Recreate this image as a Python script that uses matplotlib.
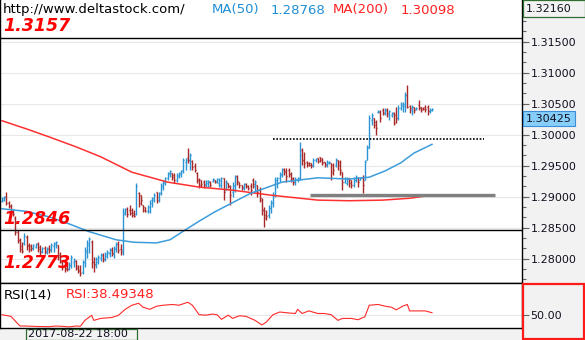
import numpy as np
import matplotlib
matplotlib.use("Agg")
import matplotlib.pyplot as plt
import matplotlib.transforms as mtransforms
from matplotlib.patches import Rectangle

# GBPUSD-style hourly bars (open, high, low, close)
opens = [1.2894, 1.2895, 1.2900, 1.2890, 1.2886, 1.2877, 1.2866, 1.2844, 1.2831, 1.2821,
         1.2826, 1.2836, 1.2823, 1.2821, 1.2818, 1.2819, 1.2824, 1.2819, 1.2813, 1.2818,
         1.2811, 1.2816, 1.2816, 1.2821, 1.2824, 1.2823, 1.2806, 1.2795, 1.2789, 1.2785,
         1.2784, 1.2790, 1.2795, 1.2797, 1.2789, 1.2782, 1.2779, 1.2795, 1.2811, 1.2823,
         1.2827, 1.2795, 1.2790, 1.2795, 1.2802, 1.2806, 1.2800, 1.2805, 1.2810, 1.2815,
         1.2808, 1.2816, 1.2824, 1.2816,
         1.2815, 1.2873, 1.2881, 1.2879, 1.2879, 1.2874, 1.2873, 1.2906, 1.2903, 1.2887,
         1.2884, 1.2877, 1.2877, 1.2895, 1.2895, 1.2908, 1.2900, 1.2906, 1.2916, 1.2923,
         1.2931, 1.2937, 1.2939, 1.2935, 1.2927, 1.2934, 1.2937, 1.2944, 1.2956, 1.2963,
         1.2960, 1.2958, 1.2950, 1.2939, 1.2927, 1.2927, 1.2924, 1.2921, 1.2923, 1.2924,
         1.2926, 1.2927, 1.2926, 1.2923, 1.2919, 1.2931, 1.2911, 1.2923, 1.2918, 1.2908,
         1.2918, 1.2934, 1.2924, 1.2919, 1.2915, 1.2921, 1.2918, 1.2918, 1.2927, 1.2918,
         1.2919, 1.2911, 1.2895, 1.2879, 1.2871, 1.2871, 1.2882, 1.2890, 1.2903, 1.2927,
         1.2931, 1.2935, 1.2945, 1.2942, 1.2944, 1.2937, 1.2931, 1.2924, 1.2929, 1.2931,
         1.2976, 1.2960, 1.2956, 1.2955, 1.2955, 1.2952, 1.2960, 1.2963,
         1.2965, 1.2963, 1.2956, 1.2953, 1.2955, 1.2955, 1.2952, 1.2952, 1.2960, 1.2956,
         1.2940, 1.2924, 1.2923, 1.2931, 1.2927, 1.2919, 1.2927, 1.2931, 1.2927, 1.2931,
         1.2927, 1.2960, 1.2979, 1.3024, 1.3027, 1.3021, 1.3037, 1.3037, 1.3040, 1.3035,
         1.3040, 1.3032, 1.3032, 1.3035, 1.3032, 1.3027, 1.3044, 1.3047, 1.3047, 1.3065,
         1.3047, 1.3040, 1.3045, 1.3042, 1.3048, 1.3045, 1.3044, 1.3045, 1.3045, 1.3039,
         1.3040]
highs = [1.2900, 1.2902, 1.2908, 1.2894, 1.2889, 1.2881, 1.2869, 1.2847, 1.2834, 1.2827,
         1.2842, 1.2839, 1.2826, 1.2824, 1.2824, 1.2826, 1.2827, 1.2823, 1.2819, 1.2821,
         1.2819, 1.2823, 1.2826, 1.2827, 1.2829, 1.2823, 1.2811, 1.2798, 1.2795, 1.2792,
         1.2795, 1.2806, 1.2802, 1.2798, 1.2790, 1.2790, 1.2798, 1.2819, 1.2831, 1.2836,
         1.2831, 1.2803, 1.2803, 1.2806, 1.2810, 1.2810, 1.2811, 1.2815, 1.2818, 1.2819,
         1.2821, 1.2827, 1.2829, 1.2824,
         1.2882, 1.2882, 1.2884, 1.2887, 1.2882, 1.2879, 1.2923, 1.2908, 1.2903, 1.2887,
         1.2884, 1.2887, 1.2895, 1.2900, 1.2906, 1.2908, 1.2908, 1.2923, 1.2927, 1.2932,
         1.2940, 1.2944, 1.2939, 1.2939, 1.2939, 1.2940, 1.2944, 1.2963, 1.2963, 1.2979,
         1.2971, 1.2960, 1.2955, 1.2940, 1.2931, 1.2927, 1.2927, 1.2927, 1.2927, 1.2926,
         1.2931, 1.2927, 1.2931, 1.2931, 1.2932, 1.2931, 1.2927, 1.2923, 1.2919, 1.2924,
         1.2935, 1.2935, 1.2924, 1.2919, 1.2923, 1.2923, 1.2919, 1.2923, 1.2931, 1.2927,
         1.2919, 1.2916, 1.2898, 1.2884, 1.2879, 1.2887, 1.2895, 1.2908, 1.2932, 1.2932,
         1.2940, 1.2947, 1.2947, 1.2947, 1.2947, 1.2940, 1.2932, 1.2932, 1.2932, 1.2989,
         1.2979, 1.2973, 1.2958, 1.2956, 1.2955, 1.2963, 1.2963, 1.2963,
         1.2965, 1.2963, 1.2956, 1.2960, 1.2958, 1.2955, 1.2955, 1.2963, 1.2960, 1.2960,
         1.2940, 1.2932, 1.2932, 1.2931, 1.2927, 1.2932, 1.2935, 1.2932, 1.2932, 1.2935,
         1.2960, 1.2984, 1.3032, 1.3035, 1.3027, 1.3024, 1.3040, 1.3040, 1.3044, 1.3044,
         1.3044, 1.3040, 1.3037, 1.3037, 1.3045, 1.3048, 1.3053, 1.3053, 1.3069, 1.3081,
         1.3048, 1.3048, 1.3045, 1.3045, 1.3056, 1.3045, 1.3045, 1.3048, 1.3048, 1.3044,
         1.3043]
lows = [1.2892, 1.2894, 1.2887, 1.2882, 1.2874, 1.2869, 1.2839, 1.2826, 1.2811, 1.2810,
        1.2823, 1.2815, 1.2811, 1.2813, 1.2815, 1.2818, 1.2811, 1.2806, 1.2810, 1.2808,
        1.2808, 1.2810, 1.2811, 1.2811, 1.2818, 1.2798, 1.2794, 1.2782, 1.2779, 1.2781,
        1.2782, 1.2785, 1.2787, 1.2782, 1.2777, 1.2773, 1.2776, 1.2787, 1.2802, 1.2810,
        1.2785, 1.2779, 1.2785, 1.2792, 1.2797, 1.2795, 1.2797, 1.2802, 1.2803, 1.2805,
        1.2802, 1.2811, 1.2810, 1.2806,
        1.2806, 1.2871, 1.2868, 1.2871, 1.2868, 1.2868, 1.2871, 1.2884, 1.2887, 1.2876,
        1.2876, 1.2874, 1.2874, 1.2884, 1.2892, 1.2890, 1.2892, 1.2903, 1.2911, 1.2919,
        1.2927, 1.2932, 1.2927, 1.2923, 1.2924, 1.2931, 1.2932, 1.2939, 1.2944, 1.2955,
        1.2944, 1.2944, 1.2940, 1.2923, 1.2915, 1.2916, 1.2915, 1.2916, 1.2916, 1.2916,
        1.2924, 1.2923, 1.2923, 1.2916, 1.2915, 1.2895, 1.2911, 1.2915, 1.2887, 1.2900,
        1.2908, 1.2919, 1.2915, 1.2911, 1.2911, 1.2915, 1.2911, 1.2903, 1.2915, 1.2908,
        1.2900, 1.2892, 1.2871, 1.2852, 1.2863, 1.2866, 1.2874, 1.2884, 1.2900, 1.2915,
        1.2924, 1.2932, 1.2935, 1.2924, 1.2932, 1.2924, 1.2919, 1.2919, 1.2924, 1.2927,
        1.2952, 1.2947, 1.2948, 1.2950, 1.2947, 1.2948, 1.2956, 1.2955,
        1.2956, 1.2952, 1.2948, 1.2948, 1.2953, 1.2927, 1.2935, 1.2948, 1.2944, 1.2935,
        1.2911, 1.2923, 1.2919, 1.2916, 1.2915, 1.2916, 1.2924, 1.2916, 1.2927, 1.2906,
        1.2927, 1.2960, 1.2979, 1.3016, 1.3011, 1.3000, 1.3035, 1.3021, 1.3032, 1.3032,
        1.3029, 1.3024, 1.3029, 1.3016, 1.3019, 1.3024, 1.3040, 1.3037, 1.3037, 1.3044,
        1.3035, 1.3032, 1.3035, 1.3040, 1.3040, 1.3037, 1.3040, 1.3037, 1.3032, 1.3035,
        1.3039]
closes = [1.2898, 1.2900, 1.2890, 1.2886, 1.2877, 1.2873, 1.2844, 1.2831, 1.2816, 1.2813,
          1.2837, 1.2821, 1.2816, 1.2818, 1.2823, 1.2824, 1.2816, 1.2811, 1.2818, 1.2813,
          1.2818, 1.2815, 1.2823, 1.2826, 1.2827, 1.2803, 1.2797, 1.2787, 1.2784, 1.2784,
          1.2790, 1.2803, 1.2798, 1.2785, 1.2781, 1.2777, 1.2795, 1.2815, 1.2826, 1.2832,
          1.2795, 1.2792, 1.2800, 1.2803, 1.2806, 1.2800, 1.2808, 1.2811, 1.2816, 1.2810,
          1.2818, 1.2824, 1.2815, 1.2811,
          1.2876, 1.2881, 1.2873, 1.2874, 1.2871, 1.2869, 1.2918, 1.2890, 1.2895, 1.2879,
          1.2877, 1.2884, 1.2890, 1.2898, 1.2903, 1.2895, 1.2906, 1.2919, 1.2924, 1.2931,
          1.2939, 1.2942, 1.2932, 1.2927, 1.2935, 1.2939, 1.2942, 1.2960, 1.2960, 1.2960,
          1.2968, 1.2948, 1.2944, 1.2927, 1.2919, 1.2921, 1.2919, 1.2926, 1.2926, 1.2919,
          1.2929, 1.2924, 1.2929, 1.2927, 1.2931, 1.2908, 1.2924, 1.2918, 1.2903, 1.2919,
          1.2932, 1.2926, 1.2919, 1.2916, 1.2921, 1.2918, 1.2915, 1.2911, 1.2921, 1.2924,
          1.2908, 1.2898, 1.2879, 1.2866, 1.2869, 1.2882, 1.2892, 1.2903, 1.2927, 1.2931,
          1.2937, 1.2944, 1.2940, 1.2934, 1.2937, 1.2929, 1.2924, 1.2929, 1.2931, 1.2968,
          1.2960, 1.2955, 1.2952, 1.2952, 1.2950, 1.2960, 1.2961, 1.2958,
          1.2960, 1.2955, 1.2952, 1.2956, 1.2956, 1.2940, 1.2944, 1.2960, 1.2952, 1.2944,
          1.2924, 1.2931, 1.2929, 1.2923, 1.2919, 1.2927, 1.2932, 1.2924, 1.2931, 1.2919,
          1.2956, 1.2981, 1.3027, 1.3032, 1.3016, 1.3011, 1.3039, 1.3027, 1.3035, 1.3040,
          1.3035, 1.3039, 1.3035, 1.3019, 1.3027, 1.3044, 1.3050, 1.3050, 1.3065, 1.3045,
          1.3044, 1.3045, 1.3040, 1.3044, 1.3044, 1.3040, 1.3042, 1.3042, 1.3039, 1.3040,
          1.30425]

# moving averages, sampled at bar numbers
ma50_bar = [0, 11, 14, 21, 29, 39, 51, 59, 69, 75, 81, 88, 95, 111, 125, 141, 155, 164, 171, 178, 184, 192]
ma50_val = [1.2881, 1.28768, 1.2874, 1.2868, 1.2858, 1.2844, 1.2831, 1.2827, 1.2826, 1.2831, 1.2845,
            1.2861, 1.2876, 1.2906, 1.2924, 1.2931, 1.2929, 1.2932, 1.2942, 1.2955, 1.2971, 1.2985]
ma200_bar = [0, 11, 21, 33, 44, 58, 74, 88, 103, 120, 141, 155, 170, 182, 192]
ma200_val = [1.3023, 1.30098, 1.2997, 1.2981, 1.2965, 1.2940, 1.2924, 1.2916, 1.2911, 1.2903,
             1.2895, 1.2894, 1.2895, 1.2898, 1.2903]

# RSI(14)
rsi_bar = [0, 4, 8, 11, 16, 21, 24, 27, 30, 33, 35, 37, 40, 41, 44, 49, 52, 55, 58, 61, 63, 66,
           69, 72, 76, 79, 83, 85, 88, 91, 94, 96, 98, 101, 103, 106, 109, 113, 116, 118, 121,
           124, 127, 131, 132, 134, 137, 141, 144, 147, 150, 152, 156, 159, 162, 164, 168, 171,
           174, 176, 179, 181, 182, 186, 189, 192]
rsi_val = [50.7, 48.9, 38.6, 38.49348, 38.0, 37.8, 38.5, 38.2, 37.6, 38.5, 38.3, 44.6, 50.0, 44.6,
           46.7, 47.7, 50.0, 56.5, 60.9, 63.0, 58.7, 56.5, 59.8, 60.9, 61.7, 60.9, 64.1, 60.9, 50.7,
           50.2, 51.4, 50.7, 45.7, 50.2, 46.7, 49.6, 48.9, 44.6, 39.7, 42.7, 50.7, 53.6, 52.8, 52.0,
           56.5, 52.0, 54.8, 52.0, 52.0, 50.7, 44.6, 46.7, 46.7, 45.3, 48.5, 60.9, 61.7, 59.9, 58.7,
           55.9, 60.0, 61.7, 54.8, 54.8, 54.8, 52.8]

# levels marked on the chart
level_hi = 1.3157
level_mid = 1.2846
level_lo = 1.2773
resistance = 1.2993
support = 1.2903
cursor_bar = 11

W, H = 585, 340
BLUE = '#2a94d4'
RED = '#a82828'


def fx(x):
    return x / W


def fy(y):
    return 1 - y / H


fig = plt.figure(figsize=(W / 100, H / 100), dpi=100)
fig.patch.set_facecolor('white')

# grey scale panels on the right and the time strip at the bottom
fig.add_artist(Rectangle((fx(522), 0), fx(63), 1, transform=fig.transFigure,
                         facecolor='#f2f2f2', edgecolor='none', zorder=-1))
fig.add_artist(Rectangle((0, 0), 1, 12 / H, transform=fig.transFigure,
                         facecolor='#f2f2f2', edgecolor='none', zorder=-1))

ax = fig.add_axes([0, fy(283), fx(522), 283 / H])
rsi_ax = fig.add_axes([0, fy(328), fx(522), 45 / H])

n = len(closes)
bars = np.arange(n)
o, h, l, c = map(np.array, (opens, highs, lows, closes))
col = np.where(c >= o, BLUE, RED)
step = 430 / (n - 1)
xlim = (-2 / step, 520 / step)

# price panel
ax.set_xlim(*xlim)
ax.set_ylim(1.27613, 1.32178)
ax.set_yticks(np.arange(1.280, 1.3151, 0.005))
ax.set_yticks(np.arange(1.2767, 1.3217, 0.005 / 3), minor=True)
ax.yaxis.set_major_formatter(plt.FormatStrFormatter('%.5f'))
ax.yaxis.tick_right()
ax.tick_params(axis='y', which='major', direction='out', length=5, width=0.8,
               color='#666666', pad=1, labelsize=8, labelcolor='#101020')
ax.tick_params(axis='y', which='minor', direction='out', length=3, width=0.8, color='#666666')
ax.tick_params(axis='x', bottom=False, labelbottom=False)
ax.grid(axis='y', which='major', color='#e8e8e8', lw=0.8)
ax.set_axisbelow(True)
for side in ('left', 'right', 'bottom'):
    ax.spines[side].set_color('black')
    ax.spines[side].set_linewidth(1.0)
ax.spines['top'].set_visible(False)

ax.vlines(bars, l, h, colors=col, lw=1.0)
ax.hlines(o, bars - 0.45, bars, colors=col, lw=1.0)
ax.hlines(c, bars, bars + 0.45, colors=col, lw=1.0)

ax.plot(ma200_bar, ma200_val, color='#ff3030', lw=1.1)
ax.plot(ma50_bar, ma50_val, color='#3d9ddc', lw=1.1)

ax.axhline(level_hi, color='black', lw=1.0)
ax.axhline(level_mid, color='black', lw=1.0)
ax.hlines(resistance, 121, 215, colors='black', linestyles=(0, (1, 1)), lw=1.2)
ax.hlines(support, 137.5, 220, colors='#808080', lw=2.4)

blend = mtransforms.blended_transform_factory(ax.transAxes, ax.transData)
ax.annotate(f'{closes[-1]:.5f}', xy=(1, closes[-1]), xycoords=blend,
            xytext=(3, -3.5), textcoords='offset points', ha='left', va='top',
            fontsize=8, color='#101020', zorder=10, annotation_clip=False,
            bbox=dict(boxstyle='square,pad=0.25', fc='#87cefa', ec='#3b8fd6', lw=0.8))

# RSI panel
rsi_ax.set_xlim(*xlim)
rsi_ax.set_ylim(36.4, 84.8)
rsi_ax.plot(rsi_bar, rsi_val, color='#ff2a2a', lw=0.8)
rsi_ax.set_yticks([50])
rsi_ax.yaxis.set_major_formatter(plt.FormatStrFormatter('%.2f'))
rsi_ax.yaxis.tick_right()
rsi_ax.tick_params(axis='y', direction='out', length=5, width=0.8, color='#666666',
                   pad=1, labelsize=8, labelcolor='#101020')
rsi_ax.tick_params(axis='x', bottom=False, labelbottom=False)
rsi_ax.grid(axis='y', color='#e8e8e8', lw=0.8)
rsi_ax.set_axisbelow(True)
for side in rsi_ax.spines.values():
    side.set_color('black')
    side.set_linewidth(1.0)

# frames on the scale panel
fig.add_artist(Rectangle((fx(523), fy(339)), fx(61), 55 / H, transform=fig.transFigure,
                         facecolor='none', edgecolor='#ff1a1a', lw=1.6, zorder=5))
fig.add_artist(Rectangle((fx(522.5), fy(17)), fx(62), 16.5 / H, transform=fig.transFigure,
                         facecolor='#f2f2f2', edgecolor='#2e6e2e', lw=0.9, zorder=5))
fig.text(fx(526), fy(8.5), '1.32160', fontsize=8, color='#101020', va='center', zorder=6)

# time strip with the cursor date
fig.add_artist(Rectangle((fx(26), fy(339.5)), fx(111), 11 / H, transform=fig.transFigure,
                         facecolor='#f2f2f2', edgecolor='#2e6e2e', lw=0.9, zorder=5))
fig.text(fx(28), fy(334), '2017-08-22 18:00', fontsize=8, color='#101020', va='center', zorder=6)

# header texts
fig.text(fx(3), fy(10), 'http://www.deltastock.com/', fontsize=9.5, color='black', va='center')
fig.text(fx(212), fy(10), 'MA(50)', fontsize=9.5, color='#1e8fd6', va='center')
fig.text(fx(271), fy(10), f'{ma50_val[ma50_bar.index(cursor_bar)]:.5f}', fontsize=9.5,
         color='#1e8fd6', va='center')
fig.text(fx(333), fy(10), 'MA(200)', fontsize=9.5, color='#ff2020', va='center')
fig.text(fx(401), fy(10), f'{ma200_val[ma200_bar.index(cursor_bar)]:.5f}', fontsize=9.5,
         color='#ff2020', va='center')

for val, ypx in ((level_hi, 26), (level_mid, 219), (level_lo, 263)):
    fig.text(fx(3), fy(ypx), f'{val:.4f}', fontsize=12.5, fontweight='bold', style='italic',
             color='#ff0000', va='center')

fig.text(fx(4), fy(295), 'RSI(14)', fontsize=9.5, color='black', va='center')
fig.text(fx(66), fy(295), f'RSI:{rsi_val[rsi_bar.index(cursor_bar)]:.5f}', fontsize=9.5,
         color='#ff2020', va='center')

fig.savefig('out.png', dpi=100)
